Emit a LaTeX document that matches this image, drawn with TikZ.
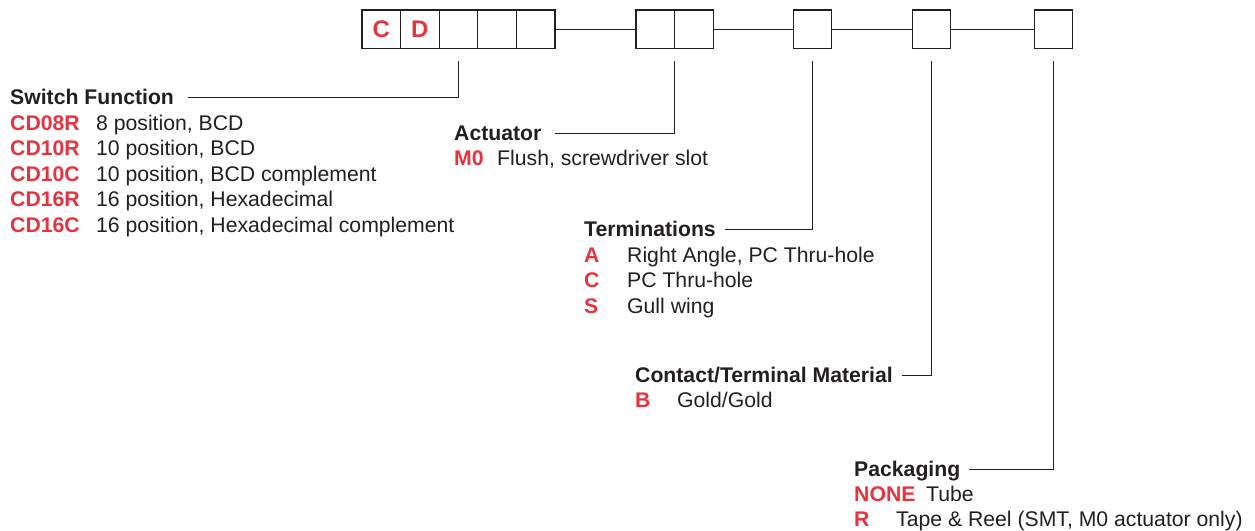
\documentclass[tikz,border=0pt]{standalone}
\usepackage{fontspec}
\setmainfont{Liberation Sans}
\definecolor{codered}{RGB}{233,50,62}
\definecolor{ink}{RGB}{35,31,32}
\newcommand\lbl{\fontsize{21.2}{25}\selectfont}
\tikzstyle{digit} = [draw=ink,line width=1.2pt,minimum width=38.6pt,minimum height=38.6pt,inner sep=0pt,text=codered,font=\fontsize{24}{28}\selectfont\bfseries]
\tikzstyle{head} = [anchor=west,inner sep=0pt,text height=15pt,text depth=0pt,text=ink,font=\lbl\bfseries]
\tikzstyle{code} = [anchor=base west,inner sep=0pt,text=codered,font=\lbl\bfseries]
\tikzstyle{desc} = [anchor=base west,inner sep=0pt,text=ink,font=\lbl]
\tikzstyle{lead} = [draw=ink,line width=0.9pt]

\begin{document}
\begin{tikzpicture}[x=1pt,y=-1pt]
	\useasboundingbox (0,0) rectangle (1255,530);
	% part number boxes
	\node[digit] (b1) at (381.3,29.3) {C};
	\node[digit] (b2) at (419.9,29.3) {D};
	\node[digit] (b3) at (458.5,29.3) {};
	\node[digit] (b4) at (497.1,29.3) {};
	\node[digit] (b5) at (535.7,29.3) {};
	\node[digit] (b6) at (655.3,29.3) {};
	\node[digit] (b7) at (693.9,29.3) {};
	\node[digit] (b8) at (812.5,29.3) {};
	\node[digit] (b9) at (931.5,29.3) {};
	\node[digit] (b10) at (1053.5,29.3) {};
	\draw[lead] (b5) -- (b6);
	\draw[lead] (b7) -- (b8);
	\draw[lead] (b8) -- (b9);
	\draw[lead] (b9) -- (b10);
	\coordinate (d1) at (458.5,61);
	\coordinate (d2) at (674.6,61);
	\coordinate (d3) at (812.5,61);
	\coordinate (d4) at (931.5,61);
	\coordinate (d5) at (1053.5,61);
	% switch function
	\node[head] (sf) at (10,97) {Switch Function};
	\node[code] (sf1) at (10,130) {CD08R};
	\node[desc] (sf1d) at (96,130) {8 position, BCD};
	\node[code] (sf2) at (10,155.6) {CD10R};
	\node[desc] (sf2d) at (96,155.6) {10 position, BCD};
	\node[code] (sf3) at (10,181.2) {CD10C};
	\node[desc] (sf3d) at (96,181.2) {10 position, BCD complement};
	\node[code] (sf4) at (10,206.8) {CD16R};
	\node[desc] (sf4d) at (96,206.8) {16 position, Hexadecimal};
	\node[code] (sf5) at (10,232.4) {CD16C};
	\node[desc] (sf5d) at (96,232.4) {16 position, Hexadecimal complement};
	\draw[lead] (d1) |- ([xshift=14pt]sf.east);
	% actuator
	\node[head] (act) at (454,133) {Actuator};
	\node[code] (act1) at (454,165.5) {M0};
	\node[desc] (act1d) at (497,165.5) {Flush, screwdriver slot};
	\draw[lead] (d2) |- ([xshift=13pt]act.east);
	% terminations
	\node[head] (term) at (584,229) {Terminations};
	\node[code] (term1) at (584,262) {A};
	\node[desc] (term1d) at (627,262) {Right Angle, PC Thru-hole};
	\node[code] (term2) at (584,287.6) {C};
	\node[desc] (term2d) at (627,287.6) {PC Thru-hole};
	\node[code] (term3) at (584,313.2) {S};
	\node[desc] (term3d) at (627,313.2) {Gull wing};
	\draw[lead] (d3) |- ([xshift=9pt]term.east);
	% contact material
	\node[head] (mat) at (635,375) {Contact/Terminal Material};
	\node[code] (mat1) at (635,407) {B};
	\node[desc] (mat1d) at (677,407) {Gold/Gold};
	\draw[lead] (d4) |- ([xshift=9pt]mat.east);
	% packaging
	\node[head] (pack) at (854,469) {Packaging};
	\node[code] (pack1) at (854,501) {NONE};
	\node[desc] (pack1d) at (926,501) {Tube};
	\node[code] (pack2) at (854,526.5) {R};
	\node[desc] (pack2d) at (896,526.5) {Tape \& Reel (SMT, M0 actuator only)};
	\draw[lead] (d5) |- ([xshift=9pt]pack.east);
\end{tikzpicture}
\end{document}
